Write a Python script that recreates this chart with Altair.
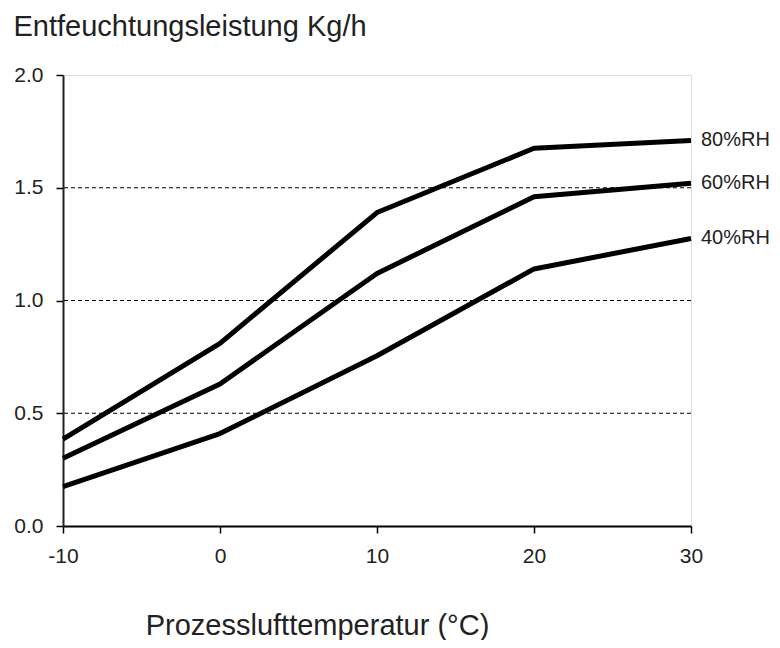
import altair as alt
import pandas as pd

temps = [-10, 0, 10, 20, 30]
rh80 = [0.385, 0.81, 1.39, 1.675, 1.71]
rh60 = [0.30, 0.63, 1.12, 1.46, 1.52]
rh40 = [0.175, 0.41, 0.755, 1.14, 1.275]
series_names = ["80%RH", "60%RH", "40%RH"]
grid_values = [0.5, 1.0, 1.5]
y_ticks = [0, 0.5, 1.0, 1.5, 2.0]

rows = []
for name, vals in zip(series_names, [rh80, rh60, rh40]):
    for t, v in zip(temps, vals):
        rows.append({"t": t, "v": v, "s": name})
df = pd.DataFrame(rows)
labels_df = df[df["t"] == temps[-1]]
grid_df = pd.DataFrame({"g": grid_values})

FONT = "Liberation Sans"
TXT = "#222222"

xs = alt.Scale(domain=[-10, 30], nice=False, zero=False)
ys = alt.Scale(domain=[0, 2.0], nice=False)

grid = alt.Chart(grid_df).mark_rule(color="black", strokeDash=[4, 3], strokeWidth=1).encode(
    y=alt.Y("g:Q", scale=ys)
)

lines = alt.Chart(df).mark_line(color="black", strokeWidth=5, strokeJoin="round").encode(
    x=alt.X("t:Q", scale=xs,
            axis=alt.Axis(values=temps, labelExpr="'' + datum.value",
                          labelFlush=False, labelOverlap=False,
                          title="Prozesslufttemperatur (°C)",
                          titleX=254, titleY=108, titleAlign="center", titleBaseline="alphabetic",
                          titleFont=FONT, titleFontSize=29, titleFontWeight="normal",
                          titleColor=TXT,
                          labelFont=FONT, labelFontSize=21, labelColor=TXT,
                          labelPadding=12, tickSize=7, tickColor="black", tickWidth=1.5,
                          domainColor="black", domainWidth=2, grid=False)),
    y=alt.Y("v:Q", scale=ys,
            axis=alt.Axis(values=y_ticks, format=".1f",
                          labelFlush=False, labelOverlap=False,
                          title="Entfeuchtungsleistung Kg/h",
                          titleAngle=0, titleX=-50, titleY=-40, titleAlign="left",
                          titleBaseline="alphabetic",
                          titleFont=FONT, titleFontSize=29, titleFontWeight="normal",
                          titleColor=TXT,
                          labelFont=FONT, labelFontSize=21, labelColor=TXT,
                          labelPadding=13, tickSize=7, tickColor="black", tickWidth=1.5,
                          domainColor="#222222", domainWidth=2, grid=False)),
    detail="s:N",
)

texts = alt.Chart(labels_df).mark_text(
    align="left", baseline="middle", dx=10, font=FONT, fontSize=20, color=TXT
).encode(
    x=alt.X("t:Q", scale=xs),
    y=alt.Y("v:Q", scale=ys),
    text="s:N",
)

chart = alt.layer(grid, lines, texts).properties(
    width=628, height=451,
    autosize=alt.AutoSizeParams(type="none"),
    padding={"left": 55, "top": 67, "right": 81, "bottom": 114},
).configure_view(stroke="#999999", strokeWidth=1.5).configure(background="white")

chart.save("out.html", embed_options={"renderer": "svg", "actions": False})
